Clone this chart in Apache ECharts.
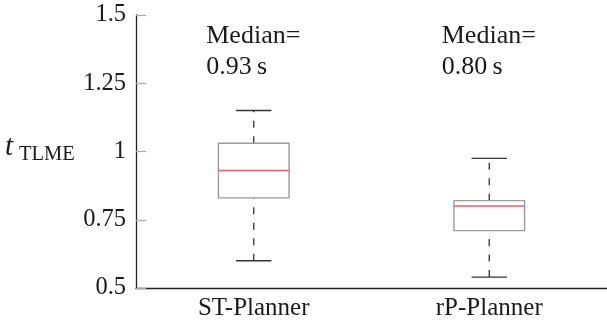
<!DOCTYPE html>
<html>
<head>
<meta charset="utf-8">
<script src="https://cdn.jsdelivr.net/npm/echarts@6/dist/echarts.min.js"></script>
<style>
  html, body { margin: 0; padding: 0; background: #fff; }
  #chart { width: 607px; height: 321px; }
</style>
</head>
<body>
<div id="chart"></div>
<script>
// Planner run-time distributions (five-number summaries)
const categories = ['ST-Planner', 'rP-Planner'];
const whiskerLow = [0.60, 0.54];
const quartile1 = [0.83, 0.71];
const medians = [0.93, 0.80];
const quartile3 = [1.03, 0.82];
const whiskerHigh = [1.15, 0.975];
const yTicks = [0.5, 0.75, 1, 1.25, 1.5];

const SERIF = 'Liberation Serif';

const boxData = categories.map((c, i) => [
  i, whiskerLow[i], quartile1[i], medians[i], quartile3[i], whiskerHigh[i]
]);

function renderBox(params, api) {
  const idx = api.value(0);
  const lo = api.coord([idx, api.value(1)]);
  const q1 = api.coord([idx, api.value(2)]);
  const md = api.coord([idx, api.value(3)]);
  const q3 = api.coord([idx, api.value(4)]);
  const hi = api.coord([idx, api.value(5)]);
  const top = api.coord([idx, yTicks[yTicks.length - 1]]);
  const band = api.size([1, 0])[0];
  const half = band * 0.15;
  const cap = half / 2;
  const x = lo[0];
  const dash = { stroke: '#333', lineWidth: 1.3, lineDash: [7, 8.5] };
  const solid = { stroke: '#333', lineWidth: 1.4 };
  return {
    type: 'group',
    children: [
      // whiskers, drawn upward from the lower end
      { type: 'line', shape: { x1: x, y1: lo[1], x2: x, y2: q1[1] }, style: dash },
      { type: 'line', shape: { x1: x, y1: q3[1], x2: x, y2: hi[1] }, style: dash },
      { type: 'line', shape: { x1: x - cap, y1: lo[1], x2: x + cap, y2: lo[1] }, style: solid },
      { type: 'line', shape: { x1: x - cap, y1: hi[1], x2: x + cap, y2: hi[1] }, style: solid },
      // interquartile box
      { type: 'rect', shape: { x: x - half, y: q3[1], width: half * 2, height: q1[1] - q3[1] },
        style: { fill: '#fff', stroke: '#9a9a9a', lineWidth: 1.4 } },
      // median
      { type: 'line', shape: { x1: x - half, y1: md[1], x2: x + half, y2: md[1] },
        style: { stroke: '#ee5f63', lineWidth: 1.5 } },
      // median annotation
      { type: 'text', x: x - 47.5, y: top[1] + 5.5,
        style: { text: 'Median=\n' + api.value(3).toFixed(2) + '\u2009s',
                 fontFamily: SERIF, fontSize: 26, fill: '#1a1a1a', lineHeight: 31,
                 align: 'left', verticalAlign: 'top' } }
    ]
  };
}

const chart = echarts.init(document.getElementById('chart'), null, { renderer: 'canvas' });
chart.setOption({
  animation: false,
  backgroundColor: '#fff',
  textStyle: { fontFamily: SERIF },
  grid: { left: 136, right: -10, top: 15, bottom: 32 },
  xAxis: {
    type: 'category',
    data: categories,
    boundaryGap: true,
    axisLine: { lineStyle: { color: '#222', width: 1.3 } },
    axisTick: { show: false },
    axisLabel: { fontFamily: SERIF, fontSize: 25, color: '#1a1a1a', margin: 8 }
  },
  yAxis: {
    type: 'value',
    min: yTicks[0],
    max: yTicks[yTicks.length - 1],
    interval: 0.25,
    splitLine: { show: false },
    axisLine: { show: true, lineStyle: { color: '#222', width: 1.3 } },
    axisTick: { show: true, inside: true, length: 10, lineStyle: { color: '#aaa', width: 1.3 } },
    axisLabel: { fontFamily: SERIF, fontSize: 24.5, color: '#1a1a1a', margin: 10 }
  },
  graphic: [
    { type: 'text', left: 5, top: 133,
      style: { text: 't', fontFamily: SERIF, fontStyle: 'italic', fontSize: 29, fill: '#1a1a1a' } },
    { type: 'text', left: 19, top: 144,
      style: { text: 'TLME', fontFamily: SERIF, fontSize: 20.5, fill: '#1a1a1a' } }
  ],
  series: [{
    type: 'custom',
    renderItem: renderBox,
    data: boxData,
    encode: { x: 0, y: [1, 2, 3, 4, 5] }
  }]
});
</script>
</body>
</html>
